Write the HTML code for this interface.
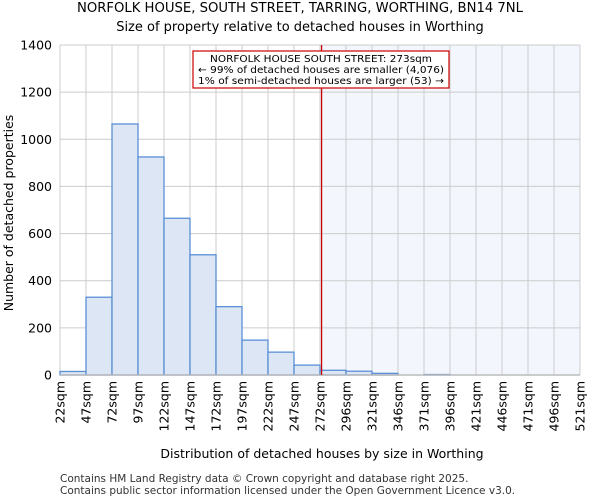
<!DOCTYPE html>
<html><head><meta charset="utf-8"><style>
body{margin:0;background:#fff;font-family:"DejaVu Sans","Liberation Sans",sans-serif;}
</style></head><body>
<svg id="c" width="600" height="500" xmlns="http://www.w3.org/2000/svg" font-family="DejaVu Sans, Liberation Sans, sans-serif">
<text x="300" y="12" text-anchor="middle" font-size="13.2">NORFOLK HOUSE, SOUTH STREET, TARRING, WORTHING, BN14 7NL</text>
<text x="300" y="31" text-anchor="middle" font-size="13">Size of property relative to detached houses in Worthing</text>
<g id="g"></g>
<text x="322" y="458" text-anchor="middle" font-size="12.5">Distribution of detached houses by size in Worthing</text>
<text transform="translate(13,213) rotate(-90)" text-anchor="middle" font-size="12.5">Number of detached properties</text>
<text x="60" y="482" font-size="10.5" fill="#333">Contains HM Land Registry data © Crown copyright and database right 2025.</text>
<text x="60" y="494" font-size="10.5" fill="#333">Contains public sector information licensed under the Open Government Licence v3.0.</text>
</svg>
<script>
const categories=["22sqm","47sqm","72sqm","97sqm","122sqm","147sqm","172sqm","197sqm","222sqm","247sqm","272sqm","296sqm","321sqm","346sqm","371sqm","396sqm","421sqm","446sqm","471sqm","496sqm","521sqm"];
const counts=[15,330,1065,925,665,510,290,148,97,42,20,16,7,0,2,0,0,0,0,0];
const yTicks=[0,200,400,600,800,1000,1200,1400];
const markerValue=273;
const ns="http://www.w3.org/2000/svg";
const g=document.getElementById("g");
const L=60,R=580,T=45,B=375,yMax=1400;
const bw=(R-L)/counts.length;
const y=v=>B-(v/yMax)*(B-T);
const xv=v=>L+(v-22)/(521-22)*(R-L);
function mk(t,a){const e=document.createElementNS(ns,t);for(const k in a)e.setAttribute(k,a[k]);g.appendChild(e);return e;}
let e=mk("rect",{x:xv(markerValue),y:T,width:R-xv(markerValue),height:B-T,fill:"#f3f6fd"});


yTicks.forEach(t=>{
 let l=mk("line",{x1:L,x2:R,y1:y(t),y2:y(t),stroke:"#ccc"});
 
 
 let tx=mk("text",{x:L-8,y:y(t)+4.5,"text-anchor":"end","font-size":"12.5"});
 tx.textContent=t;
 
 
});
categories.forEach((c,i)=>{
 const x=L+i*bw;
 let l=mk("line",{x1:x,x2:x,y1:T,y2:B,stroke:"#ccc"});
 
 
 let tx=mk("text",{transform:`translate(${x+4.5},${B+6}) rotate(-90)`,"text-anchor":"end","font-size":"12.5"});
 tx.textContent=c;
 
 
});
counts.forEach((v,i)=>{
 if(v<=0)return;
 let r=mk("rect",{x:L+i*bw,y:y(v),width:bw,height:B-y(v),fill:"#dce6f4",stroke:"#5a8fd6","stroke-width":1.3});
 
 
});
let ax=mk("line",{x1:L,x2:R,y1:B,y2:B,stroke:"#bbb","stroke-width":1.5});


let ml=mk("line",{x1:xv(markerValue),x2:xv(markerValue),y1:T,y2:B,stroke:"#cc0000","stroke-width":1.3});


let box=mk("rect",{x:193,y:51,width:256,height:37,fill:"#fff",stroke:"#cc0000","stroke-width":1.2});


["NORFOLK HOUSE SOUTH STREET: 273sqm","← 99% of detached houses are smaller (4,076)","1% of semi-detached houses are larger (53) →"].forEach((s,i)=>{
 let t=mk("text",{x:321,y:62+i*11,"text-anchor":"middle","font-size":"10","textLength":i==0?"222":"246","lengthAdjust":"spacingAndGlyphs"});
 t.textContent=s;
 
 
});
</script>
</body></html>
